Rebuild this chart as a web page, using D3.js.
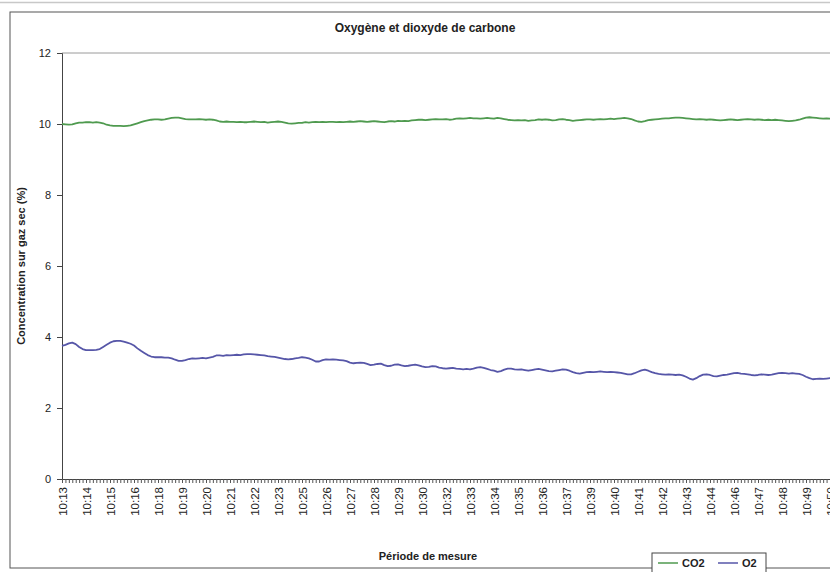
<!DOCTYPE html>
<html>
<head>
<meta charset="utf-8">
<script src="https://cdn.jsdelivr.net/npm/d3@7"></script>
<style>
  body { margin: 0; background: #fff; overflow: hidden; }
  text { font-family: "Liberation Sans", Arial, sans-serif; }
</style>
</head>
<body>
<svg id="chart"></svg>
<script>
// Series, one value every 10 s from 10:13:2x
var co2Values = [
  10.00, 9.99, 9.98, 9.99, 10.02, 10.04, 10.04, 10.05, 10.05, 10.04,
  10.05, 10.04, 10.02, 9.98, 9.96, 9.95, 9.95, 9.95, 9.94, 9.95,
  9.96, 9.99, 10.02, 10.05, 10.08, 10.10, 10.12, 10.13, 10.13, 10.12,
  10.13, 10.15, 10.17, 10.18, 10.18, 10.16, 10.14, 10.13, 10.13, 10.13,
  10.14, 10.13, 10.12, 10.13, 10.12, 10.10, 10.07, 10.06, 10.07, 10.06,
  10.06, 10.05, 10.06, 10.05, 10.05, 10.06, 10.07, 10.06, 10.05, 10.06,
  10.04, 10.05, 10.06, 10.07, 10.06, 10.04, 10.02, 10.01, 10.02, 10.03,
  10.03, 10.05, 10.04, 10.05, 10.06, 10.05, 10.06, 10.05, 10.06, 10.06,
  10.05, 10.06, 10.05, 10.06, 10.07, 10.06, 10.07, 10.08, 10.07, 10.06,
  10.07, 10.08, 10.07, 10.06, 10.05, 10.07, 10.08, 10.07, 10.09, 10.08,
  10.09, 10.08, 10.10, 10.11, 10.12, 10.12, 10.11, 10.12, 10.13, 10.14,
  10.13, 10.13, 10.14, 10.12, 10.13, 10.15, 10.16, 10.15, 10.16, 10.17,
  10.16, 10.16, 10.15, 10.16, 10.17, 10.16, 10.15, 10.17, 10.16, 10.14,
  10.12, 10.11, 10.10, 10.11, 10.10, 10.11, 10.09, 10.10, 10.11, 10.13,
  10.12, 10.13, 10.12, 10.10, 10.11, 10.13, 10.14, 10.12, 10.11, 10.09,
  10.10, 10.11, 10.12, 10.13, 10.13, 10.12, 10.13, 10.14, 10.13, 10.14,
  10.15, 10.14, 10.15, 10.16, 10.17, 10.16, 10.14, 10.10, 10.07, 10.06,
  10.08, 10.11, 10.12, 10.13, 10.14, 10.15, 10.16, 10.16, 10.17, 10.18,
  10.18, 10.17, 10.16, 10.15, 10.14, 10.13, 10.14, 10.13, 10.12, 10.13,
  10.12, 10.11, 10.10, 10.11, 10.12, 10.13, 10.12, 10.11, 10.12, 10.13,
  10.14, 10.13, 10.12, 10.13, 10.12, 10.11, 10.12, 10.11, 10.12, 10.11,
  10.10, 10.09, 10.08, 10.09, 10.10, 10.12, 10.15, 10.18, 10.19, 10.18,
  10.17, 10.16, 10.15, 10.16, 10.15, 10.16
];

var o2Values = [
  3.75, 3.78, 3.82, 3.84, 3.80, 3.72, 3.66, 3.63, 3.63, 3.63,
  3.64, 3.66, 3.72, 3.78, 3.84, 3.88, 3.89, 3.89, 3.87, 3.84,
  3.81, 3.76, 3.68, 3.61, 3.55, 3.49, 3.45, 3.43, 3.43, 3.43,
  3.42, 3.42, 3.40, 3.36, 3.33, 3.33, 3.35, 3.38, 3.40, 3.39,
  3.40, 3.41, 3.40, 3.42, 3.44, 3.48, 3.48, 3.47, 3.49, 3.48,
  3.49, 3.50, 3.49, 3.51, 3.52, 3.52, 3.51, 3.50, 3.49, 3.48,
  3.46, 3.45, 3.44, 3.42, 3.40, 3.38, 3.37, 3.38, 3.40, 3.41,
  3.43, 3.42, 3.40, 3.36, 3.31, 3.31, 3.35, 3.37, 3.36, 3.37,
  3.36, 3.35, 3.34, 3.32, 3.28, 3.26, 3.27, 3.28, 3.27, 3.24,
  3.21, 3.22, 3.24, 3.25, 3.21, 3.18, 3.19, 3.22, 3.23, 3.20,
  3.18, 3.19, 3.21, 3.22, 3.20, 3.17, 3.15, 3.16, 3.18, 3.17,
  3.14, 3.12, 3.11, 3.12, 3.13, 3.11, 3.10, 3.09, 3.10, 3.09,
  3.11, 3.14, 3.15, 3.13, 3.10, 3.07, 3.05, 3.02, 3.04, 3.08,
  3.11, 3.11, 3.09, 3.08, 3.09, 3.07, 3.05, 3.07, 3.09, 3.10,
  3.08, 3.06, 3.04, 3.03, 3.05, 3.07, 3.09, 3.08, 3.05, 3.01,
  2.98, 2.97, 2.99, 3.01, 3.02, 3.01, 3.02, 3.03, 3.02, 3.01,
  3.02, 3.01, 3.00, 2.99, 2.97, 2.95, 2.95, 2.98, 3.02, 3.06,
  3.08, 3.05, 3.01, 2.98, 2.96, 2.95, 2.94, 2.95, 2.94, 2.93,
  2.94, 2.92, 2.88, 2.83, 2.80, 2.84, 2.90, 2.94, 2.95, 2.93,
  2.90, 2.89, 2.91, 2.93, 2.94, 2.96, 2.98, 2.99, 2.97, 2.96,
  2.95, 2.93, 2.92, 2.93, 2.95, 2.94, 2.93, 2.94, 2.96, 2.98,
  2.99, 2.98, 2.97, 2.98, 2.97, 2.96, 2.93, 2.88, 2.84, 2.81,
  2.82, 2.83, 2.82, 2.83, 2.84, 2.83
];

// Category axis: one sample every 10 s, a label every 7 samples
var startTime = new Date(2000, 0, 1, 10, 13, 25);
var sampleStep = 10; // seconds
var labelEvery = 7;
var categories = d3.range(co2Values.length).map(function (i) {
  return new Date(startTime.getTime() + i * sampleStep * 1000);
});
var yTicks = [0, 2, 4, 6, 8, 10, 12];

var seriesList = [
  { name: "CO2", values: co2Values, colour: "#4f9a4f" },
  { name: "O2", values: o2Values, colour: "#5656a8" }
];

var chartWidth = 830, chartHeight = 572;
var plotLeft = 62, plotTop = 53, plotBottom = 479;
var catStep = 24 / labelEvery;

var svg = d3.select("#chart").attr("width", chartWidth).attr("height", chartHeight);

// scan artefact line at the very top
svg.append("line")
  .attr("x1", 0).attr("x2", chartWidth).attr("y1", 2.5).attr("y2", 2.5)
  .attr("stroke", "#c8c8c8").attr("stroke-width", 1.5);

// outer chart border
svg.append("rect")
  .attr("x", 10).attr("y", 12)
  .attr("width", chartWidth).attr("height", 556)
  .attr("fill", "none").attr("stroke", "#555").attr("stroke-width", 1);

var x = d3.scalePoint()
  .domain(d3.range(categories.length))
  .range([plotLeft, plotLeft + (categories.length - 1) * catStep]);

var y = d3.scaleLinear().domain([0, 12]).range([plotBottom, plotTop]);

// plot area top border
svg.append("line")
  .attr("x1", plotLeft).attr("x2", chartWidth).attr("y1", plotTop).attr("y2", plotTop)
  .attr("stroke", "#9a9a9a").attr("stroke-width", 1);

// Title
svg.append("text")
  .attr("x", 425).attr("y", 32)
  .attr("text-anchor", "middle")
  .style("font-size", "12px").style("font-weight", "bold")
  .attr("fill", "#222")
  .text("Oxygène et dioxyde de carbone");

// Y axis
var yAxis = svg.append("g")
  .attr("transform", "translate(" + plotLeft + ",0)")
  .call(d3.axisLeft(y).tickValues(yTicks).tickSize(5).tickPadding(6));
yAxis.select(".domain").attr("stroke", "#444");
yAxis.selectAll(".tick line").attr("stroke", "#444");
yAxis.selectAll("text").style("font-size", "11px").attr("fill", "#222");

svg.append("text")
  .attr("transform", "translate(25,266) rotate(-90)")
  .attr("text-anchor", "middle")
  .style("font-size", "11px").style("font-weight", "bold")
  .attr("fill", "#222")
  .text("Concentration sur gaz sec (%)");

// X axis: a tick for every sample, a label every 7th
var fmt = d3.timeFormat("%H:%M");
var xAxis = svg.append("g")
  .attr("transform", "translate(0," + plotBottom + ")")
  .call(d3.axisBottom(x).tickSize(4).tickFormat(function (i) {
    return i % labelEvery === 0 ? fmt(categories[i]) : "";
  }));
xAxis.select(".domain").attr("stroke", "#444");
xAxis.selectAll(".tick line").attr("stroke", "#555");
xAxis.selectAll("text")
  .style("font-size", "11.5px").attr("fill", "#222")
  .attr("text-anchor", "end")
  .attr("transform", "rotate(-90)")
  .attr("x", -8).attr("y", 0).attr("dy", "0.35em");

svg.append("text")
  .attr("x", 428).attr("y", 560)
  .attr("text-anchor", "middle")
  .style("font-size", "11px").style("font-weight", "bold")
  .attr("fill", "#222")
  .text("Période de mesure");

// Lines
var line = d3.line()
  .x(function (d, i) { return x(i); })
  .y(function (d) { return y(d); });

svg.selectAll(".series")
  .data(seriesList)
  .enter()
  .append("path")
  .attr("class", "series")
  .attr("d", function (d) { return line(d.values); })
  .attr("fill", "none")
  .attr("stroke", function (d) { return d.colour; })
  .attr("stroke-width", 1.8)
  .attr("stroke-linejoin", "round");

// Legend
var legend = svg.append("g").attr("transform", "translate(652,553)");
legend.append("rect")
  .attr("width", 114).attr("height", 24)
  .attr("fill", "#fff").attr("stroke", "#444");
var item = legend.selectAll(".item")
  .data(seriesList)
  .enter()
  .append("g")
  .attr("class", "item")
  .attr("transform", function (d, i) { return "translate(" + (6 + i * 60) + ",10)"; });
item.append("line")
  .attr("x1", 0).attr("x2", 20)
  .attr("stroke", function (d) { return d.colour; })
  .attr("stroke-width", 1.5);
item.append("text")
  .attr("x", 24).attr("dy", "0.35em")
  .style("font-size", "11px").style("font-weight", "bold")
  .attr("fill", "#222")
  .text(function (d) { return d.name; });
</script>
</body>
</html>
